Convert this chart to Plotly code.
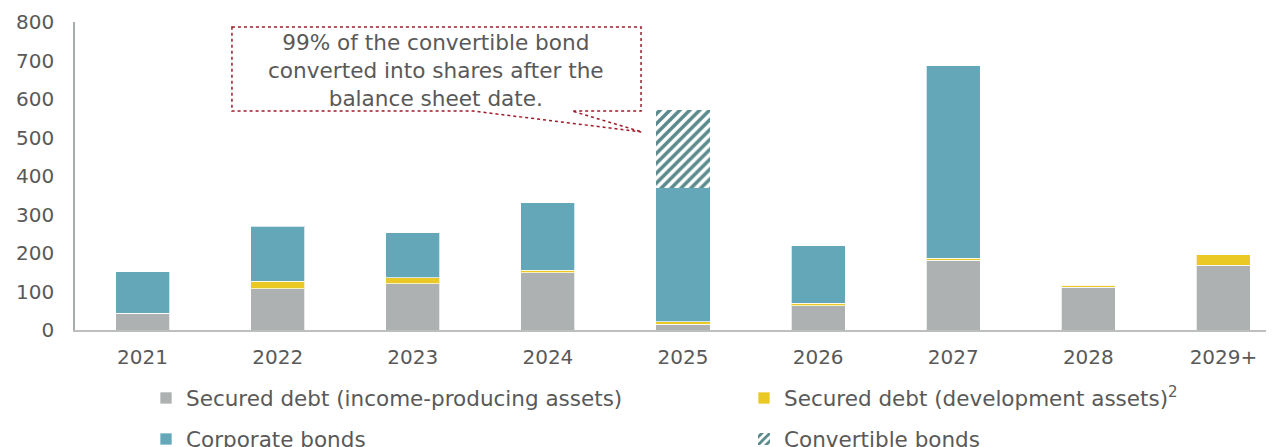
import plotly.graph_objects as go

# 数据
years = ['2021', '2022', '2023', '2024', '2025', '2026', '2027', '2028', '2029+']
secured_income = [43, 107, 120, 149, 15, 63, 181, 111, 168]
secured_dev = [0, 20, 16, 6, 6, 6, 6, 5, 28]
corporate = [108, 143, 117, 175, 348, 150, 500, 0, 0]
convertible = [0, 0, 0, 0, 202, 0, 0, 0, 0]

TEXT = '#595959'
FONT = 'DejaVu Sans'
EDGE = dict(color='rgba(255,255,255,0.7)', width=1)

# 页面有 8px 的 body 边距，图的尺寸相应缩小
OFF = 8
W, H = 1274 - OFF, 447 - OFF
L, R, T, B = 75 - OFF, 0, 22 - OFF, 117


def px(x, y):
    """页面像素 -> paper 坐标"""
    x, y = x - OFF, y - OFF
    return (x - L) / (W - L - R), (H - B - y) / (H - T - B)


def cx(x):
    return (x - OFF) / W


def cy(y):
    return (H - (y - OFF)) / H


fig = go.Figure()
fig.add_trace(go.Bar(x=years, y=secured_income, name='Secured debt (income-producing assets)',
                     marker=dict(color='#AEB1B1', line=EDGE), legend='legend'))
fig.add_trace(go.Bar(x=years, y=secured_dev, name='Secured debt (development assets)<sup>2</sup>',
                     marker=dict(color='#EAC924', line=EDGE), legend='legend'))
fig.add_trace(go.Bar(x=years, y=corporate, name='Corporate bonds',
                     marker=dict(color='#63A7B9', line=EDGE), legend='legend2'))
fig.add_trace(go.Bar(x=years, y=convertible, name='Convertible bonds',
                     marker=dict(color='#5B8A8C', line=dict(width=0),
                                 pattern=dict(shape='/', fgcolor='#5B8A8C', bgcolor='white',
                                              fgopacity=1, size=7, solidity=0.5, fillmode='replace')),
                     legend='legend2'))

# 标注框（气泡）
pts = [(232, 27), (641, 27), (641, 111), (572, 111), (642, 132), (473, 111), (232, 111)]
path = 'M ' + ' L '.join('%.4f,%.4f' % px(x, y) for x, y in pts) + ' Z'
fig.add_shape(type='path', path=path, xref='paper', yref='paper',
              line=dict(color='#9E1B2A', width=1.5, dash='dot'), fillcolor='rgba(255,255,255,0)')
ax_, ay_ = px(436, 70)
fig.add_annotation(x=ax_, y=ay_, xref='paper', yref='paper', showarrow=False,
                   xanchor='center', yanchor='middle',
                   text='99% of the convertible bond<br>converted into shares after the<br>balance sheet date.',
                   font=dict(size=21.6, color=TEXT, family=FONT), align='center')

legend_common = dict(orientation='h', xref='container', yref='container', xanchor='left',
                     yanchor='middle', entrywidth=553, entrywidthmode='pixels',
                     font=dict(size=21.5, color=TEXT, family=FONT), bgcolor='rgba(0,0,0,0)',
                     traceorder='normal')

fig.update_layout(
    width=W, height=H,
    barmode='stack',
    bargap=0.6,
    plot_bgcolor='white',
    paper_bgcolor='white',
    font=dict(family=FONT, color=TEXT, size=20),
    margin=dict(l=L, r=R, t=T, b=B, autoexpand=False),
    showlegend=True,
    legend=dict(x=cx(146), y=cy(398), **legend_common),
    legend2=dict(x=cx(146), y=cy(439), **legend_common),
)

fig.update_xaxes(type='category', range=[-0.5, 8.374], showline=True, linecolor='#BDBFBF',
                 linewidth=2, showgrid=False, ticks='', ticklabelstandoff=8,
                 tickfont=dict(size=20, color=TEXT))
fig.update_yaxes(range=[0, 800], dtick=100, showline=True, linecolor='#A9ADAD', linewidth=1.5,
                 showgrid=False, zeroline=False, ticks='', ticklabelstandoff=15,
                 tickfont=dict(size=20, color=TEXT))

fig.write_html('out.html')
